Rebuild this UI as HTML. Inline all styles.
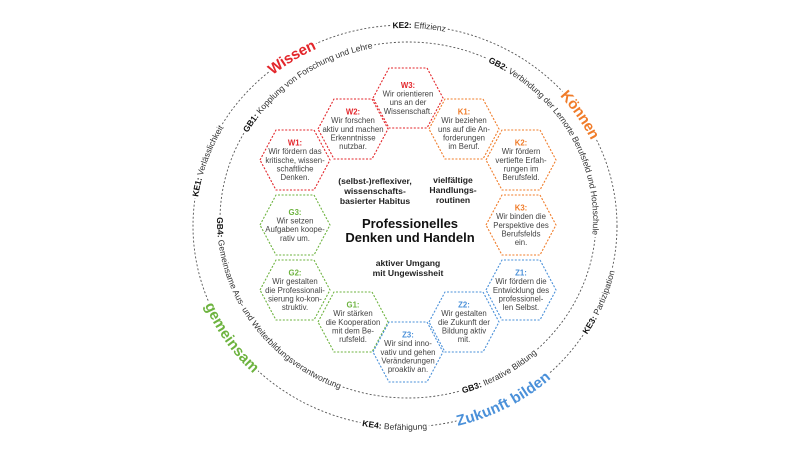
<!DOCTYPE html>
<html><head><meta charset="utf-8"><style>
html,body{margin:0;padding:0;background:#fff;}
svg{display:block;font-family:"Liberation Sans",sans-serif;}
.ring{fill:none;stroke:#555;stroke-width:0.9;stroke-dasharray:2 2;}
.rt{font-size:8.5px;fill:#333;}
.bg{fill:#fff;stroke:#fff;stroke-width:5;stroke-linejoin:round;}
.big{font-size:15px;font-weight:bold;}
.hx{fill:#fff;stroke-width:1.1;stroke-dasharray:2 1.6;}
.ht{font-size:7.8px;fill:#444;text-anchor:middle;}
.hl{font-weight:bold;}
.ct{font-size:8.6px;font-weight:bold;fill:#222;text-anchor:middle;}
text.r{fill:#e3262b;} text.o{fill:#f07c2a;} text.g{fill:#6db33f;} text.b{fill:#4a90d9;}
</style></head><body>
<svg width="800" height="450" viewBox="0 0 800 450">
<defs>
<path id="ocw" d="M405,427 A212,201 0 1 1 405,25 A212,201 0 1 1 405,427"/>
<path id="occw" d="M405,25 A212,201 0 1 0 405,427 A212,201 0 1 0 405,25"/>
<path id="icw" d="M408,398 A188,178 0 1 1 408,42 A188,178 0 1 1 408,398"/>
<path id="iccw" d="M408,42 A188,178 0 1 0 408,398 A188,178 0 1 0 408,42"/>
</defs>
<ellipse class="ring" cx="405" cy="226" rx="212" ry="201"/>
<ellipse class="ring" cx="408" cy="220" rx="188" ry="178"/>

<g dominant-baseline="central" text-anchor="middle">
<text class="rt bg"><textPath href="#ocw" startOffset="51.1%"><tspan font-weight="bold">KE2:</tspan> Effizienz</textPath></text>
<text class="rt bg"><textPath href="#ocw" startOffset="30.2%"><tspan font-weight="bold">KE1:</tspan> Verlässlichkeit</textPath></text>
<text class="rt bg"><textPath href="#occw" startOffset="68.9%"><tspan font-weight="bold">KE3:</tspan> Partizipation</textPath></text>
<text class="rt bg"><textPath href="#occw" startOffset="49.2%"><tspan font-weight="bold">KE4:</tspan> Befähigung</textPath></text>
<text class="big bg"><textPath href="#ocw" startOffset="40.8%">Wissen</textPath></text>
<text class="big bg"><textPath href="#ocw" startOffset="65.8%">Können</textPath></text>
<text class="big bg"><textPath href="#occw" startOffset="58%">Zukunft bilden</textPath></text>
<text class="big bg"><textPath href="#occw" startOffset="34.3%">gemeinsam</textPath></text>
<text class="rt bg"><textPath href="#icw" startOffset="40%"><tspan font-weight="bold">GB1:</tspan> Kopplung von Forschung und Lehre</textPath></text>
<text class="rt bg"><textPath href="#icw" startOffset="66.8%"><tspan font-weight="bold">GB2:</tspan> Verbindung der Lernorte Berufsfeld und Hochschule</textPath></text>
<text class="rt bg"><textPath href="#iccw" startOffset="34.4%"><tspan font-weight="bold">GB4:</tspan> Gemeinsame Aus- und Weiterbildungsverantwortung</textPath></text>
<text class="rt bg"><textPath href="#iccw" startOffset="58.4%"><tspan font-weight="bold">GB3:</tspan> Iterative Bildung</textPath></text>

<text class="rt"><textPath href="#ocw" startOffset="51.1%"><tspan font-weight="bold" fill="#111">KE2:</tspan> Effizienz</textPath></text>
<text class="rt"><textPath href="#ocw" startOffset="30.2%"><tspan font-weight="bold" fill="#111">KE1:</tspan> Verlässlichkeit</textPath></text>
<text class="rt"><textPath href="#occw" startOffset="68.9%"><tspan font-weight="bold" fill="#111">KE3:</tspan> Partizipation</textPath></text>
<text class="rt"><textPath href="#occw" startOffset="49.2%"><tspan font-weight="bold" fill="#111">KE4:</tspan> Befähigung</textPath></text>
<text class="big r"><textPath href="#ocw" startOffset="40.8%">Wissen</textPath></text>
<text class="big o"><textPath href="#ocw" startOffset="65.8%">Können</textPath></text>
<text class="big b"><textPath href="#occw" startOffset="58%">Zukunft bilden</textPath></text>
<text class="big g"><textPath href="#occw" startOffset="34.3%">gemeinsam</textPath></text>
<text class="rt"><textPath href="#icw" startOffset="40%"><tspan font-weight="bold" fill="#111">GB1:</tspan> Kopplung von Forschung und Lehre</textPath></text>
<text class="rt"><textPath href="#icw" startOffset="66.8%"><tspan font-weight="bold" fill="#111">GB2:</tspan> Verbindung der Lernorte Berufsfeld und Hochschule</textPath></text>
<text class="rt"><textPath href="#iccw" startOffset="34.4%"><tspan font-weight="bold" fill="#111">GB4:</tspan> Gemeinsame Aus- und Weiterbildungsverantwortung</textPath></text>
<text class="rt"><textPath href="#iccw" startOffset="58.4%"><tspan font-weight="bold" fill="#111">GB3:</tspan> Iterative Bildung</textPath></text>
</g>

<polygon class="hx" stroke="#e3262b" points="373,98 389,68 427,68 443,98 427,128 389,128"/>
<text class="ht hl r" x="408" y="87.8">W3:</text>
<text class="ht" x="408" y="96.5">Wir orientieren</text>
<text class="ht" x="408" y="105.2">uns an der</text>
<text class="ht" x="408" y="113.9">Wissenschaft.</text>

<polygon class="hx" stroke="#e3262b" points="318,129 334,99 372,99 388,129 372,159 334,159"/>
<text class="ht hl r" x="353" y="114.4">W2:</text>
<text class="ht" x="353" y="123.1">Wir forschen</text>
<text class="ht" x="353" y="131.8">aktiv und machen</text>
<text class="ht" x="353" y="140.5">Erkenntnisse</text>
<text class="ht" x="353" y="149.2">nutzbar.</text>

<polygon class="hx" stroke="#e3262b" points="260,160 276,130 314,130 330,160 314,190 276,190"/>
<text class="ht hl r" x="295" y="145.4">W1:</text>
<text class="ht" x="295" y="154.1">Wir fördern das</text>
<text class="ht" x="295" y="162.8">kritische, wissen-</text>
<text class="ht" x="295" y="171.5">schaftliche</text>
<text class="ht" x="295" y="180.2">Denken.</text>

<polygon class="hx" stroke="#6db33f" points="260,225 276,195 314,195 330,225 314,255 276,255"/>
<text class="ht hl g" x="295" y="214.8">G3:</text>
<text class="ht" x="295" y="223.5">Wir setzen</text>
<text class="ht" x="295" y="232.2">Aufgaben koope-</text>
<text class="ht" x="295" y="240.9">rativ um.</text>

<polygon class="hx" stroke="#6db33f" points="260,290 276,260 314,260 330,290 314,320 276,320"/>
<text class="ht hl g" x="295" y="275.4">G2:</text>
<text class="ht" x="295" y="284.1">Wir gestalten</text>
<text class="ht" x="295" y="292.8">die Professionali-</text>
<text class="ht" x="295" y="301.5">sierung ko-kon-</text>
<text class="ht" x="295" y="310.2">struktiv.</text>

<polygon class="hx" stroke="#6db33f" points="318,322 334,292 372,292 388,322 372,352 334,352"/>
<text class="ht hl g" x="353" y="307.4">G1:</text>
<text class="ht" x="353" y="316.1">Wir stärken</text>
<text class="ht" x="353" y="324.8">die Kooperation</text>
<text class="ht" x="353" y="333.5">mit dem Be-</text>
<text class="ht" x="353" y="342.2">rufsfeld.</text>

<polygon class="hx" stroke="#4a90d9" points="373,352 389,322 427,322 443,352 427,382 389,382"/>
<text class="ht hl b" x="408" y="337.4">Z3:</text>
<text class="ht" x="408" y="346.1">Wir sind inno-</text>
<text class="ht" x="408" y="354.8">vativ und gehen</text>
<text class="ht" x="408" y="363.5">Veränderungen</text>
<text class="ht" x="408" y="372.2">proaktiv an.</text>

<polygon class="hx" stroke="#4a90d9" points="429,322 445,292 483,292 499,322 483,352 445,352"/>
<text class="ht hl b" x="464" y="307.4">Z2:</text>
<text class="ht" x="464" y="316.1">Wir gestalten</text>
<text class="ht" x="464" y="324.8">die Zukunft der</text>
<text class="ht" x="464" y="333.5">Bildung aktiv</text>
<text class="ht" x="464" y="342.2">mit.</text>

<polygon class="hx" stroke="#4a90d9" points="486,290 502,260 540,260 556,290 540,320 502,320"/>
<text class="ht hl b" x="521" y="275.4">Z1:</text>
<text class="ht" x="521" y="284.1">Wir fördern die</text>
<text class="ht" x="521" y="292.8">Entwicklung des</text>
<text class="ht" x="521" y="301.5">professionel-</text>
<text class="ht" x="521" y="310.2">len Selbst.</text>

<polygon class="hx" stroke="#f07c2a" points="486,225 502,195 540,195 556,225 540,255 502,255"/>
<text class="ht hl o" x="521" y="210.4">K3:</text>
<text class="ht" x="521" y="219.1">Wir binden die</text>
<text class="ht" x="521" y="227.8">Perspektive des</text>
<text class="ht" x="521" y="236.5">Berufsfelds</text>
<text class="ht" x="521" y="245.2">ein.</text>

<polygon class="hx" stroke="#f07c2a" points="486,160 502,130 540,130 556,160 540,190 502,190"/>
<text class="ht hl o" x="521" y="145.4">K2:</text>
<text class="ht" x="521" y="154.1">Wir fördern</text>
<text class="ht" x="521" y="162.8">vertiefte Erfah-</text>
<text class="ht" x="521" y="171.5">rungen im</text>
<text class="ht" x="521" y="180.2">Berufsfeld.</text>

<polygon class="hx" stroke="#f07c2a" points="429,129 445,99 483,99 499,129 483,159 445,159"/>
<text class="ht hl o" x="464" y="114.4">K1:</text>
<text class="ht" x="464" y="123.1">Wir beziehen</text>
<text class="ht" x="464" y="131.8">uns auf die An-</text>
<text class="ht" x="464" y="140.5">forderungen</text>
<text class="ht" x="464" y="149.2">im Beruf.</text>

<text class="ct" x="375" y="184">(selbst-)reflexiver,</text>
<text class="ct" x="375" y="194">wissenschafts-</text>
<text class="ct" x="375" y="204">basierter Habitus</text>
<text class="ct" x="453" y="183">vielfältige</text>
<text class="ct" x="453" y="193">Handlungs-</text>
<text class="ct" x="453" y="203">routinen</text>
<text x="410" y="228" text-anchor="middle" font-size="13" font-weight="bold" fill="#111">Professionelles</text>
<text x="410" y="242" text-anchor="middle" font-size="13" font-weight="bold" fill="#111">Denken und Handeln</text>
<text class="ct" x="408" y="266">aktiver Umgang</text>
<text class="ct" x="408" y="276">mit Ungewissheit</text>
</svg>
</body></html>
